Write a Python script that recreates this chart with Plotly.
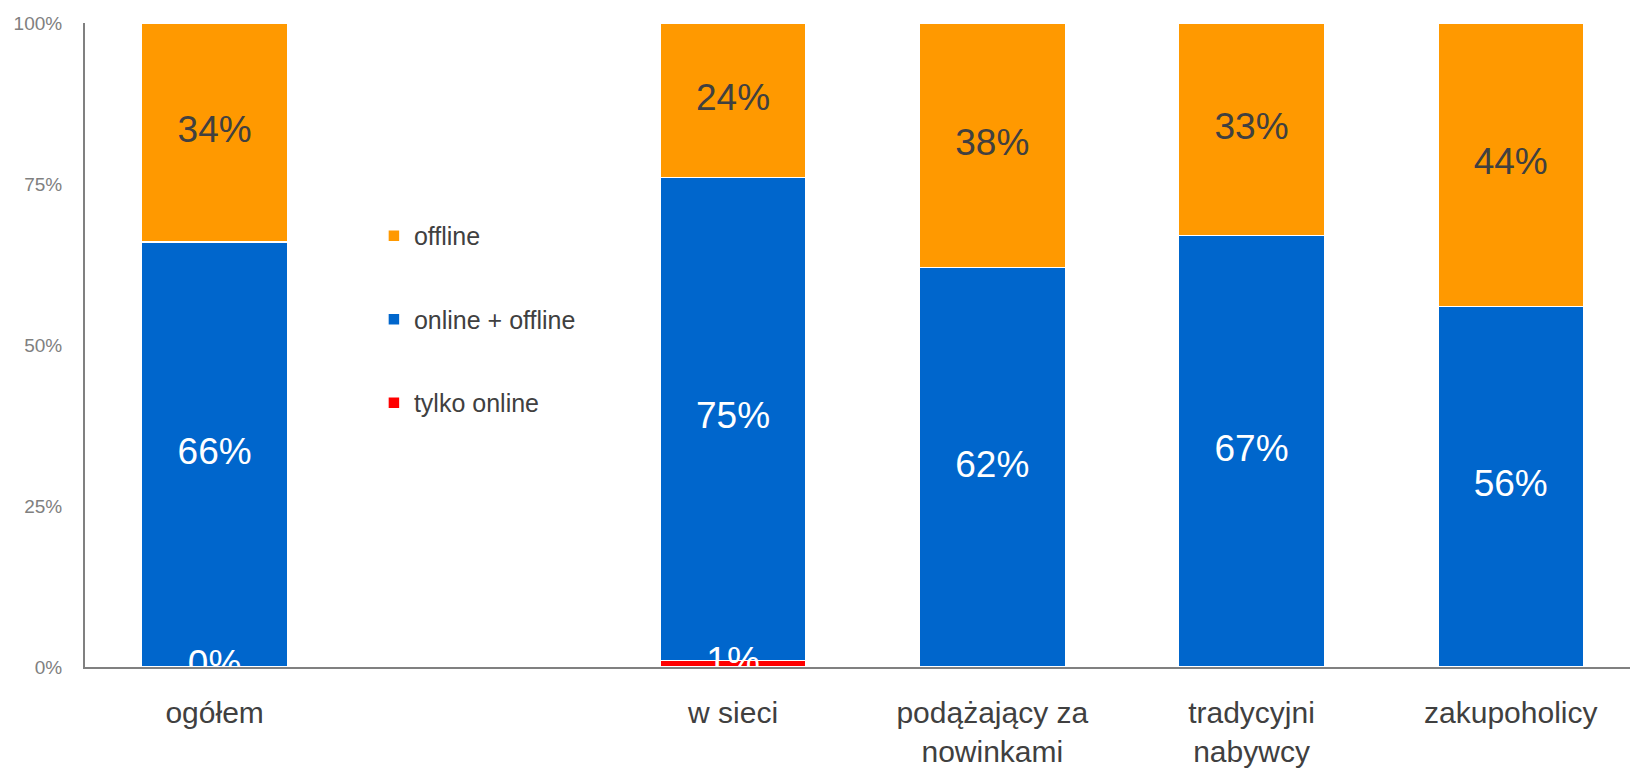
import plotly.graph_objects as go

# Respondent segments (the blank slot separates the total from the segments)
categories = ["ogółem", " ", "w sieci", "podążający za<br>nowinkami", "tradycyjni<br>nabywcy", "zakupoholicy"]

# Share of purchases by channel, in percent
tylko_online = [0, None, 1, None, None, None]
online_offline = [66, None, 75, 62, 67, 56]
offline = [34, None, 24, 38, 33, 44]

y_ticks = [0, 25, 50, 75, 100]
y_tick_labels = ["0%", "25%", "50%", "75%", "100%"]

series = [
    ("tylko online", tylko_online, "#FF0000", "white", 3),
    ("online + offline", online_offline, "#0066CC", "white", 2),
    ("offline", offline, "#FF9900", "#404040", 1),
]

FONT = "Liberation Sans, Arial, sans-serif"

fig = go.Figure()

for i, (name, vals, color, _, rank) in enumerate(series):
    fig.add_trace(go.Bar(
        x=categories, y=vals, name=name,
        marker=dict(color=color, line=dict(color="white", width=1.5)),
        width=0.563, legendgroup=f"g{i}", legendrank=rank, hoverinfo="skip",
    ))

# Value labels centred on each stacked segment
lx, ly, lt, lc = [], [], [], []
for ci, cat in enumerate(categories):
    base = 0
    for name, vals, color, tcolor, _ in series:
        v = vals[ci]
        if v is None:
            continue
        lx.append(cat)
        ly.append(base + v / 2)
        lt.append(f"{v}%")
        lc.append(tcolor)
        base += v

fig.add_trace(go.Scatter(
    x=lx, y=ly, text=lt, mode="text", showlegend=False, hoverinfo="skip",
    textfont=dict(family=FONT, size=37, color=lc), cliponaxis=False,
))

fig.update_layout(
    width=1630, height=769,
    margin=dict(l=85, r=0, t=23, b=102),
    paper_bgcolor="white", plot_bgcolor="white",
    barmode="stack",
    font=dict(family=FONT, color="#404040"),
    showlegend=True,
    legend=dict(
        x=0.187, y=0.705, xanchor="left", yanchor="top",
        traceorder="grouped", tracegroupgap=48,
        font=dict(family=FONT, size=25, color="#404040"),
        bgcolor="rgba(0,0,0,0)",
    ),
    xaxis=dict(
        type="category", categoryorder="array", categoryarray=categories,
        range=[-0.5, 5.46], showline=True, linecolor="#808080", linewidth=2,
        showgrid=False, ticks="", ticklabelstandoff=18, automargin=False,
        tickfont=dict(family=FONT, size=30, color="#404040"),
    ),
    yaxis=dict(
        range=[0, 100], tickvals=y_ticks, ticktext=y_tick_labels,
        showline=True, linecolor="#808080", linewidth=2, automargin=False,
        showgrid=False, zeroline=False, ticks="", ticklabelstandoff=17,
        tickfont=dict(family=FONT, size=19, color="#808080"),
    ),
)

fig.write_html("out.html")
